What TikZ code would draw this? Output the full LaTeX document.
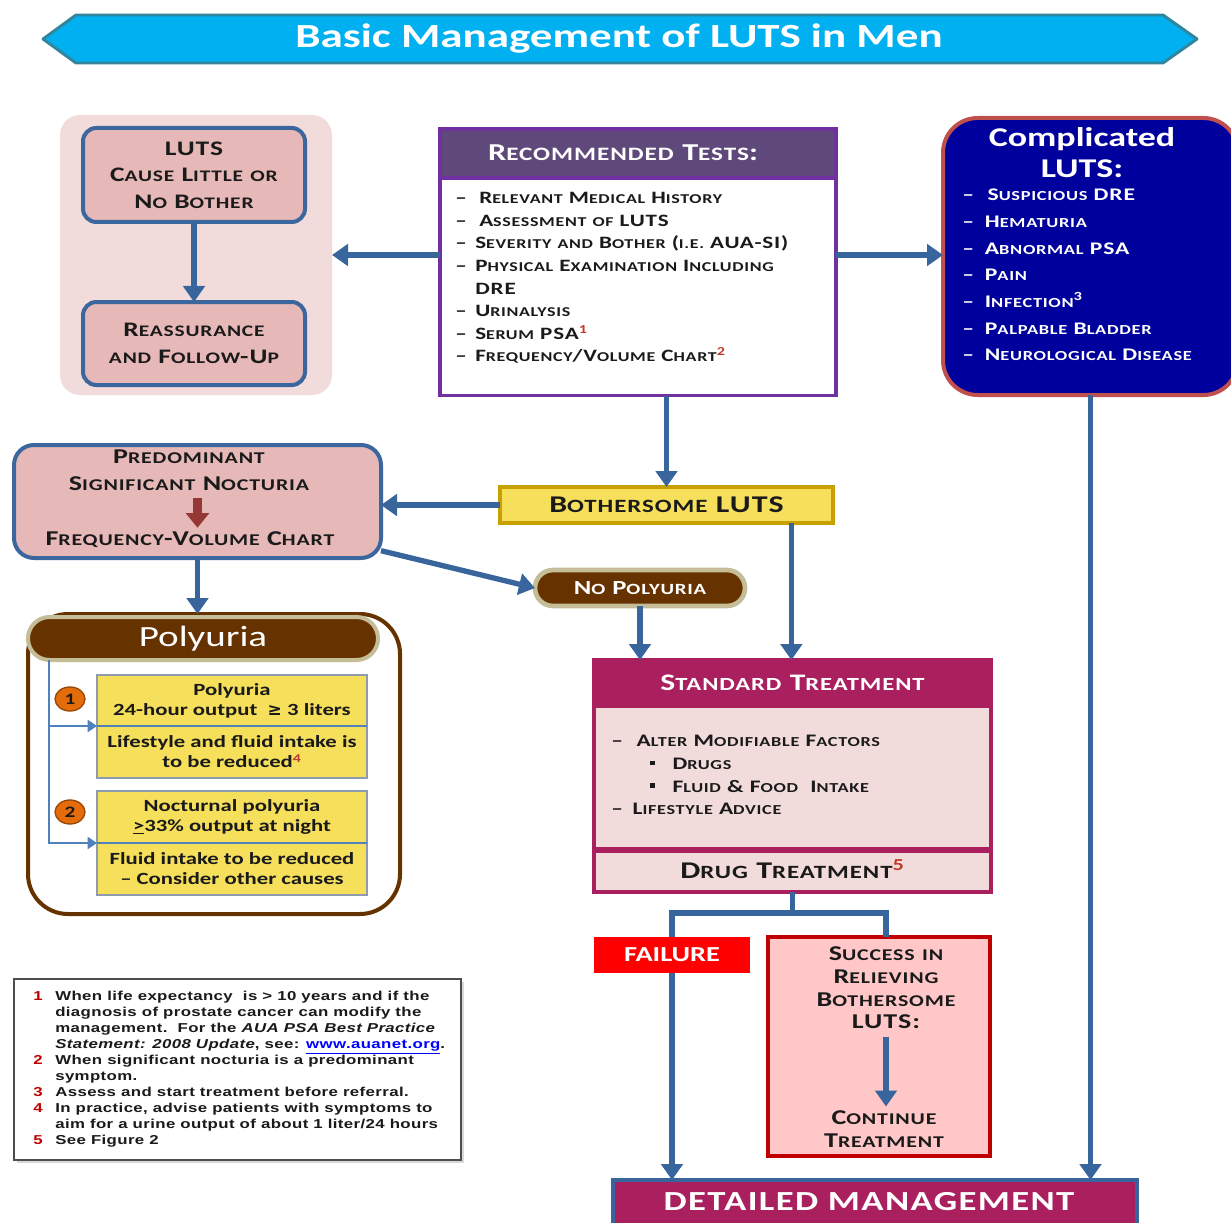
\documentclass[tikz,border=0pt]{standalone}
\usepackage{fontspec}
\usepackage{graphicx}
\usetikzlibrary{arrows.meta,shapes.misc,shapes.geometric,shadows,calc}

\setmainfont{Carlito}[FakeStretch=1.33]
\newfontfamily\capf{Carlito}[FakeStretch=1.33,LetterSpace=5]
\newfontfamily\notef{Liberation Sans}[FakeStretch=1.3,LetterSpace=3]
\newfontfamily\symf{DejaVu Sans}

% small capitals built from scaled capitals
\newcommand\ks[1]{\scalebox{0.78}{#1}}
\newcommand\kw[1]{\kwsplit#1\relax}
\def\kwsplit#1#2\relax{#1\ks{#2}}
\newcommand\dsh[1][15pt]{\makebox[#1][l]{–}}
\newcommand\bul{\raisebox{0.22em}{\rule{0.28em}{0.28em}}}
\newcommand\fnum[1]{\makebox[16.5pt][l]{\color{notered}#1}}
\newcommand\supr[1]{\textsuperscript{\color{supred}#1}}

\definecolor{flowblue}{HTML}{38659B}
\definecolor{banner}{HTML}{00B0F0}
\definecolor{bannerrim}{HTML}{31859C}
\definecolor{calmbg}{HTML}{F2DCDB}
\definecolor{rosebox}{HTML}{E6B9B8}
\definecolor{rosebrd}{HTML}{3B679E}
\definecolor{testrim}{HTML}{7030A0}
\definecolor{testhead}{HTML}{5F497A}
\definecolor{navy}{HTML}{00009C}
\definecolor{navyrim}{HTML}{C0504D}
\definecolor{gold}{HTML}{F5DF5B}
\definecolor{goldrim}{HTML}{C8A100}
\definecolor{brownfill}{HTML}{663300}
\definecolor{tanrim}{HTML}{C4BD97}
\definecolor{orangedot}{HTML}{E46C0A}
\definecolor{orangerim}{HTML}{984807}
\definecolor{rasp}{HTML}{AA1F5E}
\definecolor{blush}{HTML}{F2DCDB}
\definecolor{failred}{HTML}{FF0000}
\definecolor{succfill}{HTML}{FFC7C7}
\definecolor{succrim}{HTML}{C00000}
\definecolor{notered}{HTML}{C00000}
\definecolor{supred}{HTML}{C0392B}
\definecolor{linkblue}{HTML}{0000FF}
\definecolor{nocred}{HTML}{953735}
\definecolor{treeblue}{HTML}{4F81BD}
\definecolor{ink}{HTML}{1A1A1A}
\definecolor{yellowrim}{HTML}{8C9BB0}
\definecolor{notegray}{HTML}{4D4D4D}

\tikzset{
  wh/.style 2 args={minimum width=#1*0.75pt,minimum height=#2*0.75pt},
  box/.style={inner sep=0pt,outer sep=0pt},
  flow/.style={draw=flowblue,line width=4pt,-{Triangle[width=16pt,length=12pt]}},
  trunk/.style={draw=flowblue,line width=4pt},
  tree/.style={draw=treeblue,line width=1.5pt,-{Triangle[width=9pt,length=7pt]}},
  ybox/.style={box,wh={270}{52},fill=gold,draw=yellowrim,line width=0.8pt,
    align=center,text=ink,font=\bfseries\fontsize{12.8}{15}\selectfont},
  dot/.style={ellipse,wh={30}{24},fill=orangedot,draw=orangerim,line width=1pt,
    inner sep=0pt,text=ink,font=\bfseries\fontsize{12}{12}\selectfont},
  listtext/.style={anchor=west,align=left,inner sep=0pt}
}

\begin{document}
\begin{tikzpicture}[x=0.75pt,y=-0.75pt]

\useasboundingbox (0,0) rectangle (1231,1223);

% ---------- title banner ----------
\draw[fill=banner,draw=bannerrim,line width=2.2pt,line join=round]
  (43,39) -- (76,15) -- (1163,15) -- (1197,39) -- (1163,63) -- (76,63) -- cycle;
\node[text=white,font=\bfseries\fontsize{25.4}{30}\selectfont] (title) at (619,38)
  {Basic Management of LUTS in Men};

% ---------- little bother ----------
\node[box,wh={272}{280},fill=calmbg,rounded corners=15pt] (calm) at (196,255) {};
\node[box,wh={222}{94},fill=rosebox,draw=rosebrd,line width=3pt,rounded corners=10pt,
  align=center,text=ink,font=\capf\bfseries\fontsize{15.5}{19.9}\selectfont] (little) at (194,175)
  {LUTS\\\kw{CAUSE} \kw{LITTLE} \ks{OR}\\\kw{NO} \kw{BOTHER}};
\node[box,wh={222}{83},fill=rosebox,draw=rosebrd,line width=3pt,rounded corners=10pt,
  align=center,text=ink,font=\capf\bfseries\fontsize{15.5}{20.25}\selectfont] (reassure) at (194,343.5)
  {\kw{REASSURANCE}\\\ks{AND} \kw{FOLLOW}-\kw{UP}};

% ---------- recommended tests ----------
\node[box,wh={396}{267},fill=white,draw=testrim,line width=2.5pt] (tests) at (638,262) {};
\node[box,wh={396}{49},fill=testhead,draw=testrim,line width=2.5pt] (testshead) at (638,153.5) {};
\node[text=white,font=\capf\bfseries\fontsize{18.2}{22}\selectfont] (teststitle) at (623,153)
  {\kw{RECOMMENDED} \kw{TESTS}:};
\node[listtext,text=ink,font=\capf\bfseries\fontsize{13}{16.9}\selectfont] (testlist) at (455,278)
  {\dsh\hspace{3pt}\kw{RELEVANT} \kw{MEDICAL} \kw{HISTORY}\\
   \dsh\hspace{3pt}\kw{ASSESSMENT} \ks{OF} LUTS\\
   \dsh\kw{SEVERITY} \ks{AND} \kw{BOTHER} (\ks{I.E.} AUA-SI)\\
   \dsh\kw{PHYSICAL} \kw{EXAMINATION} \kw{INCLUDING}\\
   \hspace*{15pt}DRE\\
   \dsh\kw{URINALYSIS}\\
   \dsh\kw{SERUM} PSA\supr{1}\\
   \dsh\kw{FREQUENCY}/\kw{VOLUME} \kw{CHART}\supr{2}};

% ---------- complicated LUTS ----------
\node[box,wh={295}{277},fill=navy,draw=navyrim,line width=3pt,rounded corners=26pt] (compl) at (1090.5,256.5) {};
\node[text=white,align=center,font=\bfseries\fontsize{20.3}{23.25}\selectfont] (compltitle) at (1082,152.5)
  {Complicated\\LUTS:};
\node[listtext,text=white,font=\capf\bfseries\fontsize{13.3}{20}\selectfont] (compllist) at (962,275)
  {\dsh[17pt]\hspace{2pt}\kw{SUSPICIOUS} DRE\\
   \dsh[17pt]\kw{HEMATURIA}\\
   \dsh[17pt]\kw{ABNORMAL} PSA\\
   \dsh[17pt]\kw{PAIN}\\
   \dsh[17pt]\kw{INFECTION}\textsuperscript{3}\\
   \dsh[17pt]\kw{PALPABLE} \kw{BLADDER}\\
   \dsh[17pt]\kw{NEUROLOGICAL} \kw{DISEASE}};

% ---------- bothersome LUTS ----------
\node[box,wh={333}{36},fill=gold,draw=goldrim,line width=2.5pt,text=ink,
  font=\capf\bfseries\fontsize{18}{20}\selectfont] (bother) at (666.5,505) {\kw{BOTHERSOME} LUTS};

% ---------- nocturia ----------
\node[box,wh={367}{113},fill=rosebox,draw=rosebrd,line width=3pt,rounded corners=15pt] (noct) at (197.5,501.5) {};
\node[inner sep=0pt,align=center,text=ink,font=\capf\bfseries\fontsize{15.8}{20}\selectfont] (noctA) at (189,470.5)
  {\kw{PREDOMINANT}\\\kw{SIGNIFICANT} \kw{NOCTURIA}};
\node[inner sep=0pt,text=ink,font=\capf\bfseries\fontsize{15.8}{20}\selectfont] (noctB) at (190,540)
  {\kw{FREQUENCY}-\kw{VOLUME} \kw{CHART}};

% ---------- no polyuria ----------
\node[box,rounded rectangle,wh={210}{36},fill=brownfill,draw=tanrim,line width=3.5pt,text=white,
  font=\capf\bfseries\fontsize{15}{18}\selectfont] (nopoly) at (640,588) {\kw{NO} \kw{POLYURIA}};

% ---------- polyuria ----------
\node[box,wh={372}{300},fill=white,draw=brownfill,line width=3pt,rounded corners=30pt] (polygrp) at (214,764) {};
\node[box,rounded rectangle,wh={350}{43},fill=brownfill,draw=tanrim,line width=3pt,text=white,
  font=\fontsize{22}{24}\selectfont] (polyhead) at (203,638.5) {Polyuria};
\node[ybox,wh={270}{51}] (py1) at (232,700.5) {Polyuria\\24-hour output\ \ {\symf ≥} 3 liters};
\node[ybox] (py1b) at (232,752) {Lifestyle and fluid intake is\\to be reduced\supr{4}};
\node[ybox] (py2) at (232,817) {Nocturnal polyuria\\\underline{>}33\% output at night};
\node[ybox] (py2b) at (232,869) {Fluid intake to be reduced\\– Consider other causes};
\draw[treeblue,line width=1.8pt] (py1.south west) -- (py1.south east);
\draw[treeblue,line width=1.8pt] (py2.south west) -- (py2.south east);
\node[dot] (n1) at (70,699) {1};
\node[dot] (n2) at (70,812) {2};
\coordinate (trunktop) at (49,660);
\draw[tree] (trunktop) |- (py1.south west);
\draw[tree] (trunktop) |- (py2.south west);

% ---------- standard treatment ----------
\node[box,wh={397}{232},fill=blush,draw=rasp,line width=2.5pt] (std) at (792.5,776) {};
\node[box,wh={397}{46},fill=rasp,draw=rasp,line width=2.5pt,text=white,
  font=\capf\bfseries\fontsize{17.8}{20}\selectfont] (stdhead) at (792.5,683) {\kw{STANDARD} \kw{TREATMENT}};
\node[listtext,text=ink,font=\capf\bfseries\fontsize{13.2}{17}\selectfont] (stdlist) at (611,775)
  {\dsh[19pt]\kw{ALTER} \kw{MODIFIABLE} \kw{FACTORS}\\
   \hspace*{29pt}\makebox[17pt][l]{\bul}\kw{DRUGS}\\
   \hspace*{29pt}\makebox[17pt][l]{\bul}\kw{FLUID} \& \kw{FOOD}\ \ \kw{INTAKE}\\
   \dsh[16pt]\kw{LIFESTYLE} \kw{ADVICE}};
\node[box,wh={397}{42},fill=blush,draw=rasp,line width=2.5pt,text=ink,
  font=\capf\bfseries\fontsize{18}{22}\selectfont] (drug) at (792.5,871)
  {\raisebox{3pt}{\kw{DRUG} \kw{TREATMENT}\supr{5}}};
\draw[rasp,line width=5pt] (drug.north west) -- (drug.north east);

% ---------- outcomes ----------
\node[box,wh={156}{36},fill=failred,text=white,font=\bfseries\fontsize{16}{18}\selectfont] (fail) at (672,955) {FAILURE};
\node[box,wh={222}{219},fill=succfill,draw=succrim,line width=2.5pt] (succ) at (879,1046.5) {};
\node[inner sep=0pt,align=center,text=ink,font=\capf\bfseries\fontsize{15.8}{17}\selectfont] (succA) at (886,988)
  {\kw{SUCCESS} \ks{IN}\\\kw{RELIEVING}\\\kw{BOTHERSOME}\\LUTS:};
\node[inner sep=0pt,align=center,text=ink,font=\capf\bfseries\fontsize{15.8}{17}\selectfont] (succB) at (884,1129)
  {\kw{CONTINUE}\\\kw{TREATMENT}};

% ---------- detailed management ----------
\node[box,wh={524}{56},fill=rasp,draw=flowblue,line width=2.5pt] (detail) at (875,1208) {};
\node[text=white,font=\capf\bfseries\fontsize{20.7}{24}\selectfont] (detailtxt) at (869,1202) {DETAILED MANAGEMENT};

% ---------- footnotes ----------
\node[box,wh={447}{181},fill=white,draw=notegray,line width=1.5pt,
  drop shadow={shadow xshift=2pt,shadow yshift=-2pt,fill=black!30}] (notes) at (237.5,1069.5) {};
\node[listtext,text=ink,font=\notef\bfseries\fontsize{9.7}{12}\selectfont] (notetxt) at (33,1069)
  {\fnum{1}When life expectancy\ \ is > 10 years and if the\\
   \fnum{}diagnosis of prostate cancer can modify the\\
   \fnum{}management.\ \ For the \textit{AUA PSA Best Practice}\\
   \fnum{}\textit{Statement: 2008 Update}, see: {\color{linkblue}\underline{www.auanet.org}}.\\
   \fnum{2}When significant nocturia is a predominant\\
   \fnum{}symptom.\\
   \fnum{3}Assess and start treatment before referral.\\
   \fnum{4}In practice, advise patients with symptoms to\\
   \fnum{}aim for a urine output of about 1 liter/24 hours\\
   \fnum{5}See Figure 2};

% ---------- connectors ----------
\draw[flow] (little) -- (reassure);
\draw[flow] (tests.west |- calm.east) -- (calm.east);
\draw[flow] (tests.east |- calm.east) -- (compl.west |- calm.east);
\draw[flow] (bother.north |- tests.south) -- (bother.north);
\draw[flow] (bother.west) -- (bother.west -| noct.east);
\draw[flow] (noct.-15.6) -- (nopoly.west);
\draw[flow] (noct.south) -- (noct.south |- polygrp.north);
\draw[draw=nocred,line width=7pt,-{Triangle[width=17pt,length=11pt]},shorten <=5pt,shorten >=3pt]
  (noctA.south -| noct.north) -- (noctB.north -| noct.north);
\draw[flow] ($(bother.south west)!0.875!(bother.south east)$) coordinate (bs) -- (bs |- stdhead.north);
\draw[flow] (nopoly.south) -- (nopoly.south |- stdhead.north);
\coordinate (split) at (drug.south |- 0,913);
\draw[trunk] (drug.south) -- (split);
\draw[trunk] (fail.north) |- (split) -| (succA.north |- succ.north);
\draw[flow] (fail.south) -- (fail.south |- detail.north);
\draw[flow] (compl.south) -- (compl.south |- detail.north);
\draw[flow,shorten <=6pt,shorten >=3pt] (succA.south) -- (succA.south |- succB.north);
\end{tikzpicture}
\end{document}
